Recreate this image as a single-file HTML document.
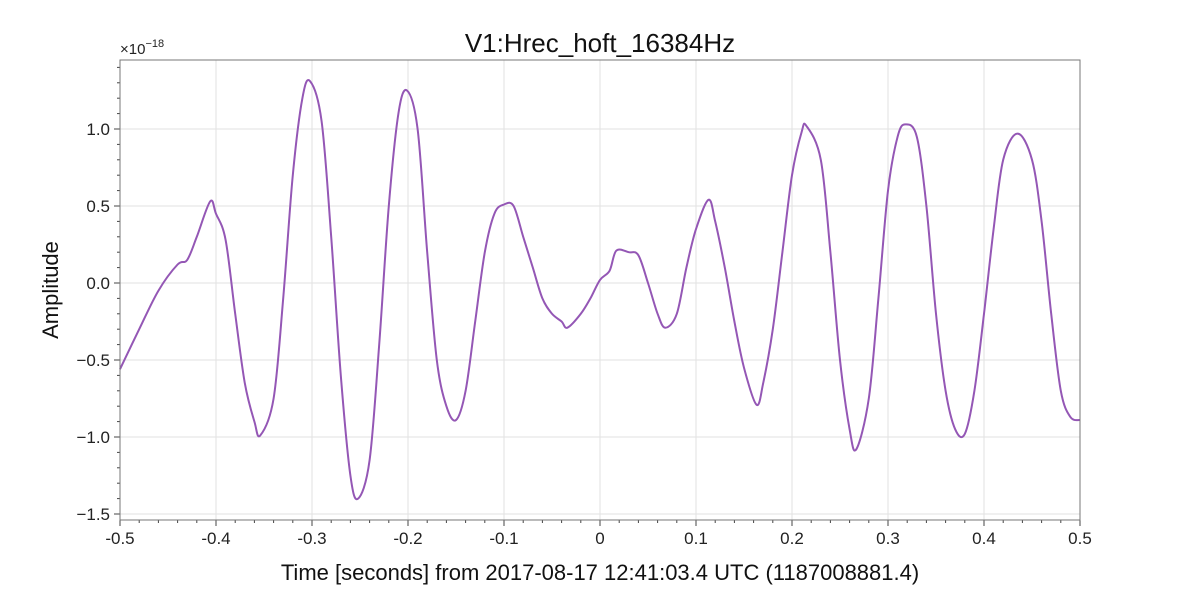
<!DOCTYPE html>
<html><head><meta charset="utf-8"><style>
html,body{margin:0;padding:0;background:#fff;}
svg{display:block;font-family:"Liberation Sans",sans-serif;}
</style></head><body>
<svg id="chart" width="1200" height="600" xmlns="http://www.w3.org/2000/svg">
<rect x="0" y="0" width="1200" height="600" fill="#fff"/>
<g id="grid"></g>
<g id="ticks"></g>
<path id="series" fill="none" stroke="#9457b5" stroke-width="2"/>
<rect x="120" y="60" width="960" height="460" fill="none" stroke="#777" stroke-width="1"/>
<text x="600" y="52" text-anchor="middle" font-size="26" fill="#111">V1:Hrec_hoft_16384Hz</text>
<text x="120" y="54" font-size="15" fill="#222">×10<tspan dy="-7" font-size="11">−18</tspan></text>
<text transform="translate(58,290) rotate(-90)" text-anchor="middle" font-size="22" fill="#111">Amplitude</text>
<text x="600" y="580" text-anchor="middle" font-size="22" fill="#111">Time [seconds] from 2017-08-17 12:41:03.4 UTC (1187008881.4)</text>
</svg>
<script>
const times = [-0.5,-0.48,-0.46,-0.44,-0.43,-0.42,-0.406,-0.4,-0.39,-0.38,-0.37,-0.36,-0.354,-0.34,-0.33,-0.32,-0.31,-0.302,-0.29,-0.28,-0.27,-0.26,-0.252,-0.24,-0.23,-0.22,-0.21,-0.201,-0.19,-0.18,-0.17,-0.16,-0.15,-0.14,-0.13,-0.12,-0.11,-0.1,-0.09,-0.08,-0.07,-0.06,-0.05,-0.04,-0.034,-0.02,-0.01,0.0,0.01,0.017,0.03,0.04,0.05,0.06,0.068,0.08,0.09,0.1,0.113,0.12,0.13,0.14,0.15,0.163,0.17,0.18,0.19,0.2,0.21,0.215,0.23,0.24,0.25,0.26,0.267,0.28,0.29,0.3,0.31,0.318,0.33,0.34,0.35,0.36,0.37,0.38,0.39,0.4,0.41,0.42,0.435,0.45,0.46,0.47,0.48,0.49,0.5];
const amps = [-0.56,-0.3,-0.05,0.12,0.15,0.3,0.53,0.45,0.28,-0.2,-0.65,-0.9,-0.99,-0.75,-0.1,0.7,1.2,1.31,1.05,0.3,-0.6,-1.25,-1.4,-1.15,-0.4,0.5,1.1,1.25,1.0,0.2,-0.5,-0.8,-0.89,-0.7,-0.25,0.2,0.45,0.51,0.5,0.3,0.1,-0.1,-0.2,-0.25,-0.29,-0.2,-0.1,0.02,0.08,0.21,0.2,0.18,0.0,-0.2,-0.29,-0.2,0.1,0.35,0.54,0.4,0.1,-0.25,-0.55,-0.79,-0.65,-0.3,0.2,0.7,0.98,1.02,0.8,0.2,-0.5,-0.95,-1.08,-0.75,-0.1,0.6,0.95,1.03,0.95,0.5,-0.2,-0.7,-0.95,-0.98,-0.7,-0.2,0.35,0.8,0.97,0.8,0.4,-0.2,-0.7,-0.87,-0.89];
const xTickLabels = ["-0.5","-0.4","-0.3","-0.2","-0.1","0","0.1","0.2","0.3","0.4","0.5"];
const yTickLabels = ["−1.5","−1.0","−0.5","0.0","0.5","1.0"];
const yTickValues = [-1.5,-1.0,-0.5,0.0,0.5,1.0];

const X0=120,X1=1080,Y0=60,Y1=520,XMIN=-0.5,XMAX=0.5,YMIN=-1.539,YMAX=1.448;
const xs=t=>X0+(t-XMIN)/(XMAX-XMIN)*(X1-X0);
const ys=v=>Y1-(v-YMIN)/(YMAX-YMIN)*(Y1-Y0);
const NS="http://www.w3.org/2000/svg";
const grid=document.getElementById('grid'),ticks=document.getElementById('ticks');
function line(p,x1,y1,x2,y2,c,w){const l=document.createElementNS(NS,'line');l.setAttribute('x1',x1);l.setAttribute('y1',y1);l.setAttribute('x2',x2);l.setAttribute('y2',y2);l.setAttribute('stroke',c);l.setAttribute('stroke-width',w);p.appendChild(l);return l;}
function text(x,y,s,anchor){const t=document.createElementNS(NS,'text');t.setAttribute('x',x);t.setAttribute('y',y);t.setAttribute('text-anchor',anchor);t.setAttribute('font-size','17');t.setAttribute('fill','#222');t.textContent=s;ticks.appendChild(t);return t;}
xTickLabels.forEach((s,i)=>{
  const v=parseFloat(s), x=xs(v);
  const g=line(grid,x,Y0,x,Y1,'#e2e2e2',1);
  
  
  line(ticks,x,Y1,x,Y1+6,'#444',1);
  const t=text(x,Y1+24,s,'middle');
  
  
});
for(let k=0;k<=50;k++){const v=-0.5+k*0.02;if(k%5)line(ticks,xs(v),Y1,xs(v),Y1+3,'#444',1);}
yTickValues.forEach((v,i)=>{
  const y=ys(v);
  const g=line(grid,X0,y,X1,y,'#e2e2e2',1);
  
  
  line(ticks,X0-6,y,X0,y,'#444',1);
  const t=text(X0-10,y+6,yTickLabels[i],'end');
  
  
});
for(let k=-15;k<=14;k++){if(k%5)line(ticks,X0-3,ys(k/10),X0,ys(k/10),'#444',1);}
// Catmull-Rom smooth path
const P=times.map((t,i)=>[xs(t),ys(amps[i])]);
let d='M'+P[0][0].toFixed(1)+' '+P[0][1].toFixed(1);
for(let i=0;i<P.length-1;i++){
  const p0=P[Math.max(i-1,0)],p1=P[i],p2=P[i+1],p3=P[Math.min(i+2,P.length-1)];
  const c1=[p1[0]+(p2[0]-p0[0])/6,p1[1]+(p2[1]-p0[1])/6];
  const c2=[p2[0]-(p3[0]-p1[0])/6,p2[1]-(p3[1]-p1[1])/6];
  d+=` C${c1[0].toFixed(1)} ${c1[1].toFixed(1)} ${c2[0].toFixed(1)} ${c2[1].toFixed(1)} ${p2[0].toFixed(1)} ${p2[1].toFixed(1)}`;
}
document.getElementById('series').setAttribute('d',d);
</script>
</body></html>
